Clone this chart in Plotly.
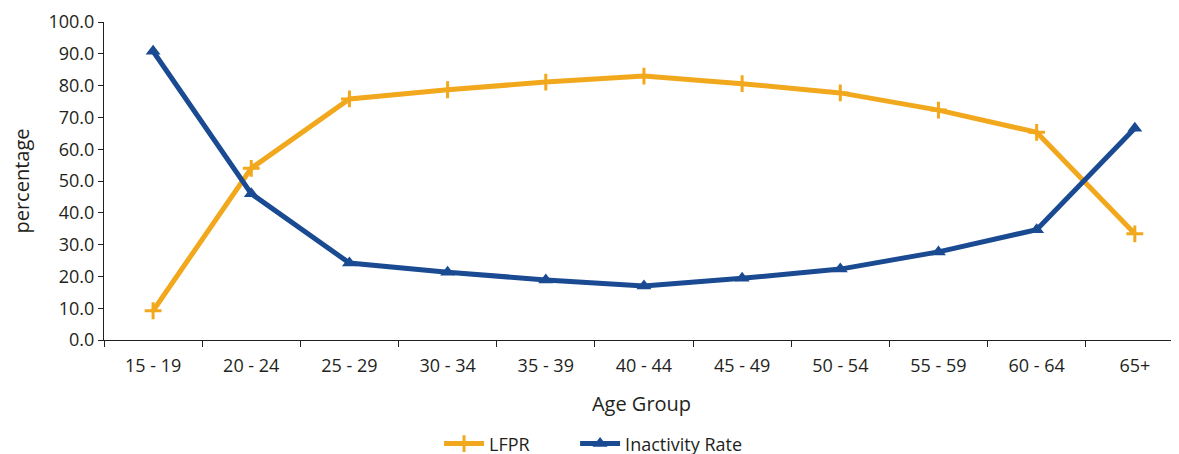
import plotly.graph_objects as go

age_groups = ["15 - 19", "20 - 24", "25 - 29", "30 - 34", "35 - 39", "40 - 44",
              "45 - 49", "50 - 54", "55 - 59", "60 - 64", "65+"]
lfpr = [9.2, 54.0, 75.8, 78.7, 81.1, 83.0, 80.6, 77.7, 72.3, 65.3, 33.4]
inactivity = [90.8, 46.0, 24.2, 21.3, 18.9, 17.0, 19.4, 22.3, 27.7, 34.7, 66.6]

font_family = "'Open Sans', sans-serif"
text_color = "#231f20"

fig = go.Figure()
fig.add_trace(go.Scatter(
    x=age_groups, y=lfpr, name="LFPR", mode="lines+markers",
    line=dict(color="#F2A81D", width=5),
    marker=dict(symbol="cross-thin", size=12, line=dict(color="#F2A81D", width=3)),
    legend="legend",
))
fig.add_trace(go.Scatter(
    x=age_groups, y=inactivity, name="Inactivity Rate", mode="lines+markers",
    line=dict(color="#1A4A91", width=5),
    marker=dict(symbol="triangle-up", size=13, color="#1A4A91"),
    legend="legend2",
))

legend_common = dict(orientation="h", xref="container", yref="container",
                     xanchor="left", yanchor="middle", y=0.04,
                     font=dict(size=18, color=text_color), itemwidth=40,
                     bgcolor="rgba(0,0,0,0)")

fig.update_layout(
    width=1179, height=454,
    margin=dict(l=96, r=8, t=14, b=122),
    paper_bgcolor="white", plot_bgcolor="white",
    font=dict(family=font_family, size=16, color=text_color),
    showlegend=True,
    legend=dict(x=0.3656, **legend_common),
    legend2=dict(x=0.481, **legend_common),
    xaxis=dict(
        type="category", range=[-0.5, 10.45], automargin=False,
        showline=True, linecolor="#231f20", linewidth=1.2,
        ticks="outside", ticklen=6, tickcolor="#231f20", tickson="boundaries",
        ticklabelstandoff=9,
        showgrid=False, zeroline=False,
        title=dict(text="Age Group", font=dict(size=20), standoff=21),
        tickfont=dict(size=18),
    ),
    yaxis=dict(
        range=[0, 100], dtick=10, tickformat=".1f", automargin=False,
        showline=True, linecolor="#231f20", linewidth=1.2,
        ticks="outside", ticklen=5, tickcolor="#231f20",
        showgrid=False, zeroline=False,
        title=dict(text="percentage", font=dict(size=20), standoff=26),
        tickfont=dict(size=18),
    ),
)

fig.write_html("out.html")
